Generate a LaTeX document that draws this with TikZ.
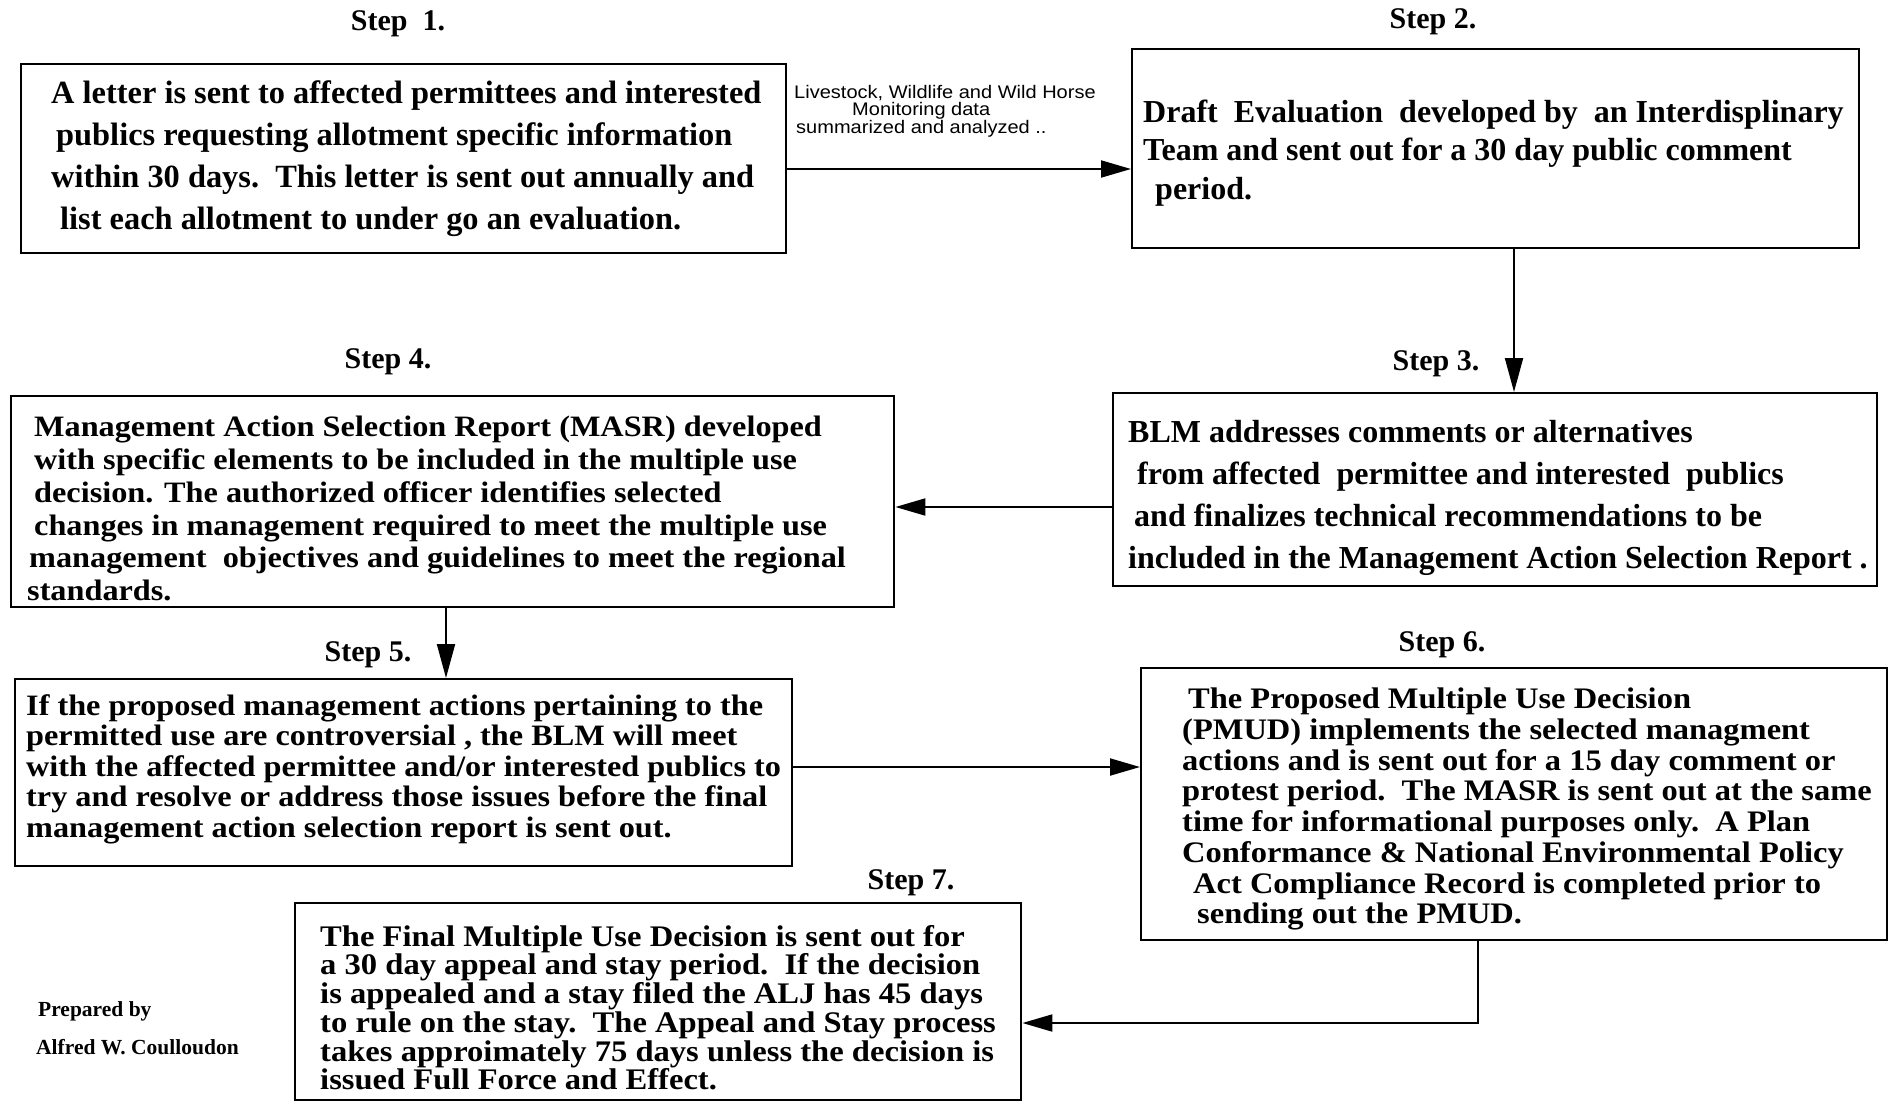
\documentclass[tikz,border=0pt]{standalone}
\usepackage{fontspec}
\setmainfont{Liberation Serif}
\newfontfamily\tightfont[FakeStretch=1.09]{Liberation Serif}
\newfontfamily\lblfont[FakeStretch=1.1]{Liberation Sans}
\usetikzlibrary{arrows.meta}
\lineskiplimit=-100pt
\begin{document}
\begin{tikzpicture}[x=1pt,y=-1pt,
  box/.style={draw, line width=2.4pt, rectangle, anchor=north west, inner sep=0pt},
  body/.style={anchor=north west, align=left, inner sep=0pt},
  steplbl/.style={font=\bfseries\fontsize{30}{34}\selectfont, inner sep=0pt},
  credit/.style={font=\bfseries\fontsize{21.5}{24}\selectfont, inner sep=0pt, anchor=west},
  arr/.style={line width=2pt, -{Triangle[length=30pt,width=17pt]}},
  varr/.style={line width=2pt, -{Triangle[length=34pt,width=18pt]}},
]
\useasboundingbox[fill=white] (0,0) rectangle (1892,1101);

% boxes
\node[box, minimum width=765pt, minimum height=189pt] (b1) at (20,63) {};
\node[box, minimum width=727pt, minimum height=199pt] (b2) at (1131,48) {};
\node[box, minimum width=764pt, minimum height=193pt] (b3) at (1112,392) {};
\node[box, minimum width=883pt, minimum height=211pt] (b4) at (10,395) {};
\node[box, minimum width=777pt, minimum height=187pt] (b5) at (14,678) {};
\node[box, minimum width=746pt, minimum height=272pt] (b6) at (1140,667) {};
\node[box, minimum width=726pt, minimum height=197pt] (b7) at (294,902) {};

% step labels
\node[steplbl] (s1) at (398,24) {Step\ \ 1.};
\node[steplbl] (s2) at (1433,22) {Step 2.};
\node[steplbl] (s3) at (1436,364) {Step 3.};
\node[steplbl] (s4) at (388,362) {Step 4.};
\node[steplbl] (s5) at (368,655) {Step 5.};
\node[steplbl] (s6) at (1442,645) {Step 6.};
\node[steplbl] (s7) at (911,883) {Step 7.};

% texts
\node[body, font=\bfseries\fontsize{32.4}{42}\selectfont] (t1) at (51,80)
 {A letter is sent to affected permittees and interested\\
  \hspace*{5pt}publics requesting allotment specific information\\
  within 30 days.\ \ This letter is sent out annually and\\
  \hspace*{9pt}list each allotment to under go an evaluation.};

\node[body, font=\bfseries\fontsize{32}{38.6}\selectfont] (t2) at (1143,99.5)
 {Draft\ \ Evaluation\ \ developed by\ \ an Interdisplinary\\
  Team and sent out for a 30 day public comment\\
  \hspace*{12pt}period.};

\node[body, font=\bfseries\fontsize{32}{42}\selectfont] (t3) at (1128,420)
 {BLM addresses comments or alternatives\\
  \hspace*{9pt}from affected\ \ permittee and interested\ \ publics\\
  \hspace*{6pt}and finalizes technical recommendations to be\\
  included in the Management Action Selection Report .};

\node[body, font=\tightfont\bfseries\fontsize{29.6}{32.8}\selectfont] (t4) at (34,416)
 {Management Action Selection Report (MASR) developed\\
  with specific elements to be included in the multiple use\\
  decision. The authorized officer identifies selected\\
  changes in management required to meet the multiple use\\
  \hspace*{-5pt}management\ \ objectives and guidelines to meet the regional\\
  \hspace*{-7pt}standards.};

\node[body, font=\tightfont\bfseries\fontsize{29.6}{30.5}\selectfont] (t5) at (26,694)
 {If the proposed management actions pertaining to the\\
  permitted use are controversial , the BLM will meet\\
  with the affected permittee and/or interested publics to\\
  try and resolve or address those issues before the final\\
  management action selection report is sent out.};

\node[body, font=\tightfont\bfseries\fontsize{29.8}{30.7}\selectfont] (t6) at (1182,688)
 {\hspace*{6pt}The Proposed Multiple Use Decision\\
  (PMUD) implements the selected managment\\
  actions and is sent out for a 15 day comment or\\
  protest period.\ \ The MASR is sent out at the same\\
  time for informational purposes only.\ \ A Plan\\
  Conformance \& National Environmental Policy\\
  \hspace*{11pt}Act Compliance Record is completed prior to\\
  \hspace*{15pt}sending out the PMUD.};

\node[body, font=\tightfont\bfseries\fontsize{29.9}{28.7}\selectfont] (t7) at (320,925)
 {The Final Multiple Use Decision is sent out for\\
  a 30 day appeal and stay period.\ \ If the decision\\
  is appealed and a stay filed the ALJ has 45 days\\
  to rule on the stay.\ \ The Appeal and Stay process\\
  takes approimately 75 days unless the decision is\\
  issued Full Force and Effect.};

% connector label
\node[body, font=\lblfont\fontsize{18.2}{17.5}\selectfont] (lbl) at (794,85)
 {Livestock, Wildlife and Wild Horse\\
  \hspace*{58pt}Monitoring data\\
  \hspace*{2pt}summarized and analyzed ..};

% credits
\node[credit] (c1) at (38,1011) {Prepared by};
\node[credit] (c2) at (36,1047) {Alfred W. Coulloudon};

% connector helper coordinates
\coordinate (a12) at (0,169);
\coordinate (a23) at (1514,0);
\coordinate (a34) at (0,507);
\coordinate (a45) at (446,0);
\coordinate (a56) at (0,767);
\coordinate (a67) at (1478,1023);

\draw[arr] (b1.east |- a12) -- (b2.west |- a12);
\draw[varr] (b2.south -| a23) -- (b3.north -| a23);
\draw[arr] (b3.west |- a34) -- (b4.east |- a34);
\draw[varr] (b4.south -| a45) -- (b5.north -| a45);
\draw[arr] (b5.east |- a56) -- (b6.west |- a56);
\draw[arr] (b6.south -| a67) -- (a67) -- (b7.east |- a67);
\end{tikzpicture}
\end{document}
